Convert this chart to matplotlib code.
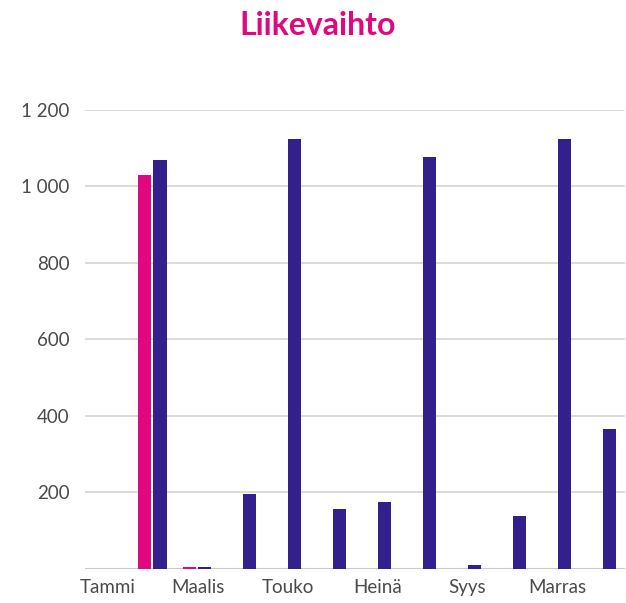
import matplotlib.pyplot as plt
import numpy as np

months = ["Tammi", "Helmi", "Maalis", "Huhti", "Touko", "Kesä",
          "Heinä", "Elo", "Syys", "Loka", "Marras", "Joulu"]
# pink series (only a couple of months have values)
series_a = [0, 1030, 6, 0, 0, 0, 0, 0, 0, 0, 0, 0]
# purple series
series_b = [0, 1070, 6, 195, 1123, 158, 174, 1076, 10, 138, 1123, 365]
yticks = [200, 400, 600, 800, 1000, 1200]
ytick_labels = ["200", "400", "600", "800", "1 000", "1 200"]

pink = "#E0077F"
purple = "#33208C"

plt.rcParams['font.family'] = ['Lato', 'DejaVu Sans']

fig = plt.figure(figsize=(6.26, 6.03), dpi=100)
ax = fig.add_axes([0.136, 0.0564, 0.862, 0.7612])

x = np.arange(len(months))
w = 0.29
ax.bar(x - 0.175, series_a, width=w, color=pink, zorder=3)
ax.bar(x + 0.165, series_b, width=w, color=purple, zorder=3)

ax.set_xlim(-0.5, len(months) - 0.5)
ax.set_ylim(0, 1200)
ax.set_yticks(yticks)
ax.set_yticklabels(ytick_labels)
ax.set_xticks(x[::2])
ax.set_xticklabels(months[::2])

ax.grid(axis='y', color='#D4D4D4', linewidth=1.2, zorder=0)
ax.axhline(0, color='#C8C8C8', linewidth=1.5, zorder=2)
for s in ax.spines.values():
    s.set_visible(False)
ax.tick_params(length=0, labelsize=13.5, labelcolor='#4A4A4A')
ax.tick_params(axis='y', pad=11)
ax.tick_params(axis='x', pad=7)

fig.text(0.507, 0.957, "Liikevaihto", ha='center', va='center',
         fontsize=23, fontweight='bold', color=pink)

fig.savefig("out.png", dpi=100)
